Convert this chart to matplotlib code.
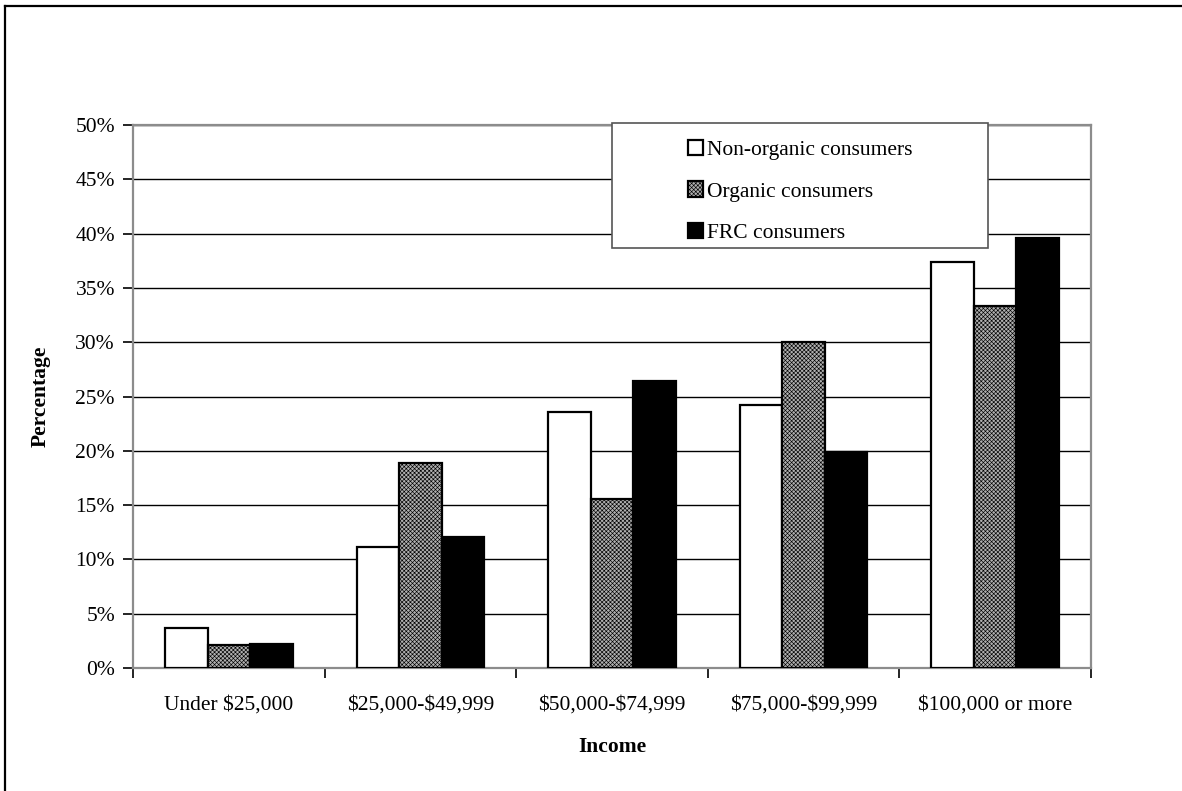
import numpy as np
import matplotlib
matplotlib.use('Agg')
import matplotlib.pyplot as plt
from matplotlib.patches import Rectangle
from matplotlib.lines import Line2D

# data
income_groups = ['Under $25,000', '$25,000-$49,999', '$50,000-$74,999',
                 '$75,000-$99,999', '$100,000 or more']
non_organic = [3.7, 11.1, 23.6, 24.2, 37.4]
organic = [2.1, 18.9, 15.6, 30.0, 33.3]
frc = [2.2, 12.1, 26.4, 19.9, 39.6]
series_names = ['Non-organic consumers', 'Organic consumers', 'FRC consumers']

plt.rcParams['font.family'] = ['Liberation Serif', 'DejaVu Serif']
plt.rcParams['font.size'] = 15.5
plt.rcParams['text.parse_math'] = False  # dollar signs are literal
plt.rcParams['hatch.color'] = '#505050'
plt.rcParams['hatch.linewidth'] = 0.45

fig = plt.figure(figsize=(11.82, 7.91), dpi=100)
W, H = 1182, 791
ax = fig.add_axes([133 / W, 1 - 668 / H, (1091 - 133) / W, (668 - 125) / H])

x = np.arange(len(income_groups))
w = 1 / 4.5  # 150% gap width
ax.bar(x - w, non_organic, w, color='white', edgecolor='black', linewidth=1.6,
       label=series_names[0], zorder=3)
ax.bar(x, organic, w, color='#b0b0b0', edgecolor='black', linewidth=1.6,
       hatch='xxxxxxxx', label=series_names[1], zorder=3)
ax.bar(x + w, frc, w, color='black', edgecolor='black', linewidth=1.6,
       label=series_names[2], zorder=3)

ax.set_xlim(-0.5, len(income_groups) - 0.5)
ax.set_ylim(0, 50)
ax.set_yticks(np.arange(0, 51, 5))
ax.set_yticklabels([f'{v}%' for v in range(0, 51, 5)])
ax.yaxis.grid(True, color='black', linewidth=1.0, zorder=0)
ax.set_axisbelow(True)

ax.set_xticks(x)
ax.set_xticklabels(income_groups)
ax.set_xticks(np.arange(-0.5, len(income_groups)), minor=True)
ax.tick_params(axis='x', which='major', length=0, pad=20)
ax.tick_params(axis='x', which='minor', length=7, width=1.2, color='black', direction='out')
ax.tick_params(axis='y', length=7, width=1.2, color='black', direction='out', pad=6)

for s in ax.spines.values():
    s.set_color('#8c8c8c')
    s.set_linewidth(1.6)

ax.set_xlabel('Income', fontweight='bold', labelpad=16)
ax.set_ylabel('Percentage', fontweight='bold', labelpad=18)

# legend: framed box drawn separately
fig.patches.append(Rectangle((612 / W, 1 - 248 / H), 376 / W, 125 / H,
                             transform=fig.transFigure, facecolor='white',
                             edgecolor='#555555', linewidth=1.2, zorder=4))
leg = fig.legend(loc='center', bbox_to_anchor=(800 / W, 1 - 191.5 / H),
                 frameon=False, handlelength=0.7, handleheight=0.7,
                 handletextpad=0.2, labelspacing=0.98)
leg.set_zorder(5)

# outer border (top and left)
fig.add_artist(Line2D([5 / W, 5 / W], [0, 1 - 6 / H], color='black', linewidth=1.6,
                      transform=fig.transFigure))
fig.add_artist(Line2D([5 / W, 1], [1 - 6 / H, 1 - 6 / H], color='black', linewidth=1.6,
                      transform=fig.transFigure))

fig.savefig('out.png', dpi=100)
